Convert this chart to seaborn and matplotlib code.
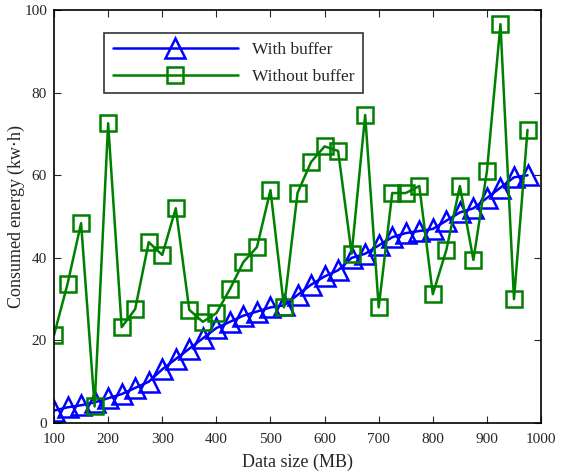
import seaborn as sns
import matplotlib
matplotlib.use("Agg")
import matplotlib.pyplot as plt
import numpy as np
import pandas as pd

# data
data_size = [100, 125, 150, 175, 200, 225, 250, 275, 300, 325, 350, 375,
             400, 425, 450, 475, 500, 525, 550, 575, 600, 625, 650, 675,
             700, 725, 750, 775, 800, 825, 850, 875, 900, 925, 950, 975]
with_buffer = [3, 3.8, 4.3, 5, 6, 7, 8.5, 10, 13, 15.5, 18, 20.5,
               23, 24.5, 26, 27, 28, 28.5, 31, 33.5, 35.5, 37, 40, 41,
               43, 45, 46, 46.5, 47, 49, 51, 52, 54.5, 57, 59.5, 60]
without_buffer = [21.3, 33.7, 48.4, 4, 72.6, 23.2, 27.6, 43.8, 40.7, 52, 27.4, 24.5,
                  26.6, 32.4, 39, 42.6, 56.4, 28, 55.7, 63.2, 67, 65.9, 41, 74.6,
                  28, 55.7, 55.7, 57.4, 31.2, 41.9, 57.4, 39.5, 61, 96.6, 30, 71]

df = pd.DataFrame({'size': data_size, 'with': with_buffer, 'without': without_buffer})

sns.set_style("ticks")
plt.rcParams['font.family'] = ['Liberation Serif', 'DejaVu Serif']
plt.rcParams['font.size'] = 11

fig = plt.figure(figsize=(5.65, 4.74), dpi=100)
ax = fig.add_axes([0.0956, 0.1076, 0.862, 0.871])

sns.lineplot(data=df, x='size', y='with', ax=ax, color=(0, 0, 1), lw=1.8,
             marker='^', markersize=14, markerfacecolor='none',
             markeredgecolor=(0, 0, 1), markeredgewidth=1.8, label='With buffer')
sns.lineplot(data=df, x='size', y='without', ax=ax, color=(0, 0.5, 0), lw=1.8,
             marker='s', markersize=11, markerfacecolor='none',
             markeredgecolor=(0, 0.5, 0), markeredgewidth=1.8, label='Without buffer')

ax.set_xlim(100, 1000)
ax.set_ylim(0, 100)
ax.set_xticks(range(100, 1001, 100))
ax.set_yticks(range(0, 101, 20))
ax.tick_params(direction='in', top=True, right=True, length=5, labelsize=11)
ax.tick_params(axis='x', pad=7)
ax.tick_params(axis='y', pad=5)
for s in ax.spines.values():
    s.set_visible(True)
    s.set_linewidth(1.2)
    s.set_color('black')

ax.set_xlabel("Data size (MB)", fontsize=13, labelpad=6)
ax.set_ylabel("Consumed energy (kw$\\cdot$h)", fontsize=13)
ax.yaxis.set_label_coords(-0.056, 0.5)

leg = ax.legend(loc='upper left', bbox_to_anchor=(0.103, 0.944), borderaxespad=0,
                handlelength=7.2, handletextpad=0.8, fontsize=12.5, frameon=True,
                fancybox=False, edgecolor='black', borderpad=0.5, labelspacing=0.6)
leg.get_frame().set_linewidth(1.2)

plt.savefig("out.png", dpi=100)
